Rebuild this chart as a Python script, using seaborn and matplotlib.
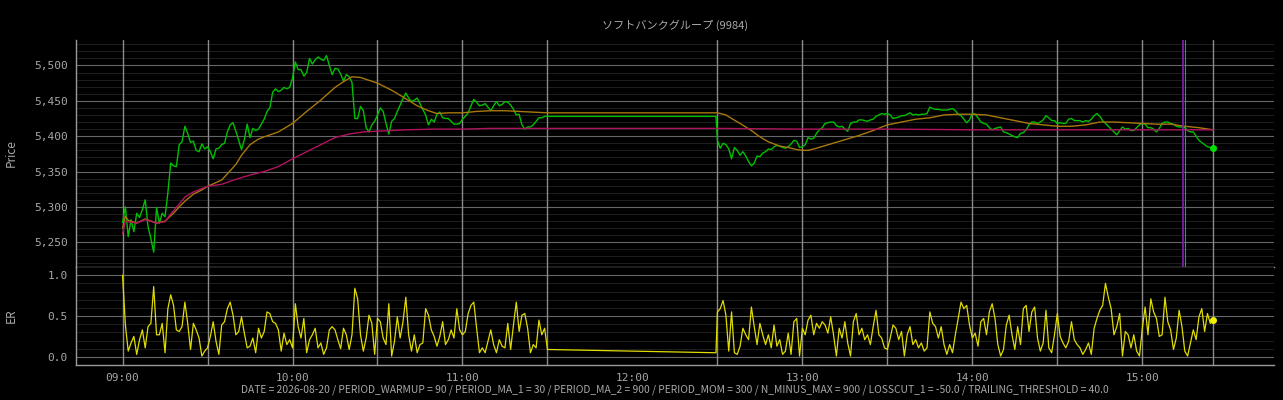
import pandas as pd
import seaborn as sns
import matplotlib.pyplot as plt
import matplotlib.dates as mdates
from matplotlib.ticker import MultipleLocator, FuncFormatter

# Chart texts
title = "ソフトバンクグループ (9984)"
params = ("DATE = 2026-08-20 / PERIOD_WARMUP = 90 / PERIOD_MA_1 = 30 / PERIOD_MA_2 = 900 / "
          "PERIOD_MOM = 300 / N_MINUS_MAX = 900 / LOSSCUT_1 = -50.0 / TRAILING_THRESHOLD = 40.0")

# Price, one value per minute, 09:00 - 11:30
price_am = [5278, 5300, 5258, 5282, 5265, 5291, 5285, 5296, 5310, 5272,
            5255, 5236, 5299, 5277, 5291, 5286, 5320, 5362, 5358, 5357,
            5388, 5392, 5414, 5404, 5391, 5393, 5380, 5378, 5389, 5382,
            5385, 5378, 5368, 5382, 5383, 5388, 5390, 5406, 5416, 5419,
            5407, 5394, 5381, 5395, 5417, 5398, 5411, 5408, 5410, 5417,
            5424, 5435, 5440, 5462, 5467, 5463, 5465, 5469, 5467, 5469,
            5482, 5505, 5494, 5494, 5485, 5490, 5510, 5502, 5508, 5512,
            5509, 5507, 5514, 5500, 5487, 5496, 5495, 5488, 5478, 5487,
            5484, 5476, 5425, 5425, 5442, 5436, 5412, 5406, 5416, 5421,
            5430, 5440, 5435, 5418, 5403, 5421, 5425, 5435, 5444, 5453,
            5461, 5454, 5449, 5451, 5454, 5446, 5438, 5430, 5416, 5424,
            5420, 5431, 5434, 5426, 5425, 5425, 5421, 5417, 5417, 5418,
            5424, 5428, 5433, 5443, 5452, 5448, 5443, 5444, 5446, 5441,
            5436, 5443, 5449, 5443, 5445, 5449, 5448, 5444, 5438, 5430,
            5431, 5416, 5410, 5413, 5413, 5416, 5421, 5426, 5426, 5428, 5428]

# last price carried through the lunch break
lunch_price = 5428

# Price, one value per minute, 12:30 - 15:25
price_pm = [5394, 5383, 5390, 5388, 5382, 5368, 5384, 5380, 5373, 5378,
            5372, 5364, 5358, 5362, 5372, 5371, 5376, 5378, 5382, 5381,
            5385, 5387, 5386, 5384, 5383, 5385, 5389, 5394, 5393, 5384,
            5385, 5388, 5398, 5396, 5397, 5404, 5409, 5412, 5418, 5419,
            5420, 5420, 5415, 5413, 5414, 5410, 5407, 5418, 5420, 5420,
            5423, 5423, 5422, 5421, 5423, 5424, 5428, 5430, 5432, 5431,
            5432, 5430, 5425, 5426, 5427, 5429, 5429, 5431, 5433, 5430,
            5431, 5430, 5431, 5431, 5432, 5441, 5439, 5438, 5438, 5437,
            5437, 5437, 5438, 5439, 5436, 5431, 5429, 5424, 5419, 5423,
            5432, 5431, 5426, 5420, 5418, 5417, 5412, 5409, 5411, 5412,
            5413, 5406, 5405, 5403, 5401, 5399, 5398, 5404, 5405, 5409,
            5416, 5420, 5420, 5418, 5420, 5423, 5429, 5426, 5422, 5422,
            5418, 5419, 5418, 5418, 5424, 5425, 5422, 5422, 5422, 5420,
            5422, 5421, 5424, 5429, 5432, 5428, 5422, 5418, 5414, 5410,
            5406, 5402, 5408, 5413, 5410, 5411, 5408, 5408, 5412, 5416,
            5418, 5417, 5412, 5412, 5410, 5406, 5411, 5418, 5420, 5420,
            5418, 5417, 5414, 5413, 5413, 5412, 5408, 5406, 5406, 5400,
            5394, 5391, 5388, 5385, 5384, 5383]

# Moving averages (minutes after session open, value)
ma1_am_min = [0, 1, 2, 5, 8, 10, 12, 15, 18, 20, 22, 25, 28, 30, 35, 40, 42, 45, 48, 50,
              55, 60, 65, 70, 75, 78, 81, 84, 87, 90, 95, 100, 104, 108, 111, 115, 120,
              125, 130, 135, 140, 145, 150]
ma1_am = [5270, 5287, 5281, 5277, 5283, 5280, 5277, 5280, 5291, 5300, 5308, 5318, 5324,
          5329, 5338, 5360, 5373, 5388, 5396, 5399, 5406, 5418, 5435, 5451, 5469, 5477,
          5484, 5483, 5479, 5475, 5465, 5453, 5443, 5436, 5432, 5433, 5433, 5435, 5436,
          5436, 5435, 5434, 5433]
ma1_pm_min = [0, 3, 5, 8, 10, 12, 15, 18, 20, 22, 25, 28, 30, 32, 35, 40, 45, 50, 55, 60,
              65, 70, 75, 80, 85, 90, 95, 100, 105, 110, 115, 120, 125, 130, 135, 140,
              145, 150, 155, 160, 165, 170, 175]
ma1_pm = [5433, 5430, 5425, 5418, 5413, 5408, 5399, 5392, 5389, 5386, 5384, 5381, 5380,
          5380, 5383, 5389, 5395, 5401, 5408, 5416, 5420, 5424, 5426, 5430, 5431, 5431,
          5430, 5426, 5422, 5418, 5416, 5414, 5414, 5416, 5420, 5420, 5419, 5418, 5417,
          5417, 5414, 5412, 5409]

ma2_am_min = [0, 1, 2, 5, 8, 12, 15, 17, 20, 22, 25, 28, 30, 35, 40, 45, 50, 55, 60, 65,
              70, 75, 80, 85, 90, 100, 110, 120, 130, 140, 150]
ma2_am = [5262, 5280, 5279, 5277, 5282, 5277, 5279, 5290, 5304, 5314, 5321, 5326, 5329,
          5332, 5339, 5345, 5350, 5357, 5368, 5378, 5388, 5398, 5403, 5406, 5407, 5409,
          5410, 5410, 5411, 5411, 5411]
ma2_pm_min = [0, 30, 60, 90, 120, 150, 175]
ma2_pm = [5411, 5410, 5410, 5409, 5409, 5409, 5409]

# Efficiency ratio, one value per minute
er_am = [1.00, 0.39, 0.07, 0.17, 0.25, 0.03, 0.21, 0.33, 0.11, 0.37,
         0.41, 0.86, 0.27, 0.27, 0.41, 0.05, 0.59, 0.76, 0.63, 0.33,
         0.31, 0.37, 0.67, 0.41, 0.09, 0.41, 0.33, 0.23, 0.01, 0.07,
         0.11, 0.25, 0.43, 0.19, 0.03, 0.39, 0.43, 0.59, 0.67, 0.51,
         0.27, 0.31, 0.49, 0.29, 0.11, 0.13, 0.23, 0.05, 0.35, 0.23,
         0.31, 0.55, 0.53, 0.43, 0.41, 0.33, 0.07, 0.29, 0.15, 0.21,
         0.11, 0.65, 0.37, 0.23, 0.47, 0.05, 0.21, 0.27, 0.35, 0.11,
         0.17, 0.03, 0.11, 0.33, 0.37, 0.33, 0.21, 0.10, 0.35, 0.27,
         0.09, 0.27, 0.84, 0.71, 0.27, 0.07, 0.23, 0.51, 0.41, 0.03,
         0.47, 0.43, 0.23, 0.15, 0.65, 0.01, 0.19, 0.49, 0.23, 0.43,
         0.73, 0.27, 0.07, 0.27, 0.05, 0.15, 0.17, 0.59, 0.51, 0.33,
         0.25, 0.13, 0.25, 0.43, 0.15, 0.21, 0.33, 0.23, 0.59, 0.33,
         0.27, 0.31, 0.53, 0.63, 0.67, 0.35, 0.05, 0.11, 0.05, 0.19,
         0.33, 0.15, 0.05, 0.21, 0.13, 0.11, 0.41, 0.09, 0.39, 0.67,
         0.31, 0.51, 0.53, 0.35, 0.05, 0.15, 0.11, 0.45, 0.27, 0.35, 0.09]
lunch_er = 0.05
er_pm = [0.55, 0.59, 0.69, 0.51, 0.07, 0.55, 0.05, 0.03, 0.13, 0.35,
         0.27, 0.21, 0.61, 0.37, 0.15, 0.41, 0.27, 0.15, 0.27, 0.11,
         0.39, 0.13, 0.21, 0.03, 0.07, 0.29, 0.03, 0.43, 0.47, 0.01,
         0.35, 0.27, 0.45, 0.51, 0.27, 0.41, 0.35, 0.43, 0.39, 0.29,
         0.49, 0.27, 0.01, 0.35, 0.23, 0.43, 0.17, 0.01, 0.43, 0.53,
         0.27, 0.35, 0.21, 0.27, 0.15, 0.37, 0.57, 0.27, 0.23, 0.11,
         0.09, 0.23, 0.39, 0.35, 0.21, 0.31, 0.01, 0.27, 0.37, 0.15,
         0.21, 0.11, 0.17, 0.07, 0.11, 0.55, 0.41, 0.37, 0.23, 0.37,
         0.15, 0.03, 0.15, 0.05, 0.27, 0.47, 0.67, 0.59, 0.63, 0.39,
         0.23, 0.29, 0.13, 0.43, 0.47, 0.27, 0.55, 0.65, 0.47, 0.15,
         0.01, 0.09, 0.39, 0.51, 0.27, 0.09, 0.37, 0.15, 0.59, 0.63,
         0.31, 0.55, 0.61, 0.23, 0.07, 0.17, 0.57, 0.11, 0.05, 0.27,
         0.53, 0.25, 0.17, 0.11, 0.19, 0.43, 0.21, 0.15, 0.11, 0.03,
         0.09, 0.17, 0.03, 0.35, 0.47, 0.57, 0.63, 0.90, 0.73, 0.59,
         0.27, 0.37, 0.53, 0.01, 0.31, 0.27, 0.11, 0.27, 0.07, 0.01,
         0.35, 0.61, 0.27, 0.71, 0.55, 0.47, 0.25, 0.27, 0.73, 0.43,
         0.33, 0.09, 0.23, 0.57, 0.37, 0.07, 0.01, 0.17, 0.33, 0.21,
         0.49, 0.59, 0.31, 0.53, 0.41, 0.45]

# Time axis
day = pd.Timestamp("2026-08-20")
open_am = day + pd.Timedelta("09:00:00")
open_pm = day + pd.Timedelta("12:30:00")
t_am = pd.date_range(open_am, periods=len(price_am), freq="min")
t_pm = pd.date_range(open_pm, periods=len(price_pm), freq="min")
t_lunch = open_pm - pd.Timedelta(seconds=30)

# session guide lines and trade marks
session_lines = ["09:00", "09:30", "10:00", "10:30", "11:00", "11:30",
                 "12:30", "13:00", "13:30", "14:00", "14:30", "15:00", "15:25"]
entry_time = day + pd.Timedelta("15:14:20")
exit_time = day + pd.Timedelta("15:15:00")

df_price = pd.DataFrame({
    "time": list(t_am) + [t_lunch] + list(t_pm),
    "value": price_am + [lunch_price] + price_pm,
})
df_er = pd.DataFrame({
    "time": list(t_am) + [t_lunch] + list(t_pm),
    "value": er_am + [lunch_er] + er_pm,
})
df_ma1 = pd.DataFrame({
    "time": [open_am + pd.Timedelta(minutes=m) for m in ma1_am_min]
            + [open_pm + pd.Timedelta(minutes=m) for m in ma1_pm_min],
    "value": ma1_am + ma1_pm,
})
df_ma2 = pd.DataFrame({
    "time": [open_am + pd.Timedelta(minutes=m) for m in ma2_am_min]
            + [open_pm + pd.Timedelta(minutes=m) for m in ma2_pm_min],
    "value": ma2_am + ma2_pm,
})

# Style
sns.set_theme(style="dark")
plt.rcParams["font.family"] = ["DejaVu Sans Mono", "Noto Sans CJK JP"]
bg = "#000000"
fg = "#a8a8a8"
jp = ["Noto Sans CJK JP", "DejaVu Sans"]

fig = plt.figure(figsize=(12.83, 4.0), dpi=100, facecolor=bg)
ax1 = fig.add_axes([0.0592, 0.3325, 0.9338, 0.5675])
ax2 = fig.add_axes([0.0592, 0.0875, 0.9338, 0.245], sharex=ax1)

for ax in (ax1, ax2):
    ax.set_facecolor(bg)
    for s in ("top", "right"):
        ax.spines[s].set_visible(False)
    for s in ("left", "bottom"):
        ax.spines[s].set_color("#9a9a9a")
        ax.spines[s].set_linewidth(1.0)
    ax.grid(which="major", axis="y", color="#666666", linewidth=0.8)
    ax.grid(which="minor", axis="y", color="#1f1f1f", linewidth=0.7)
    ax.tick_params(axis="both", colors=fg, labelsize=8, length=3, pad=3)
    ax.tick_params(which="minor", length=0)
    for hhmm in session_lines:
        ax.axvline(day + pd.Timedelta(hhmm + ":00"), color="#8c8c8c", linewidth=1.0, zorder=1)

# Price panel
sns.lineplot(data=df_price, x="time", y="value", ax=ax1, color="#00c000",
             linewidth=1.0, estimator=None, zorder=3)
sns.lineplot(data=df_ma1, x="time", y="value", ax=ax1, color="#a8780c",
             linewidth=1.0, estimator=None, zorder=4)
sns.lineplot(data=df_ma2, x="time", y="value", ax=ax1, color="#b0145e",
             linewidth=1.0, estimator=None, zorder=4)
ax1.plot(t_pm[-1], price_pm[-1], "o", color="#00e000", markersize=4, zorder=5)
ax1.axvline(entry_time, color="#7b1fa2", linewidth=1.3, zorder=6)
ax1.axvline(exit_time, color="#1e88e5", linewidth=0.8, zorder=7)

ax1.set_ylim(5215, 5536)
ax1.yaxis.set_major_locator(MultipleLocator(50))
ax1.yaxis.set_minor_locator(MultipleLocator(10))
ax1.yaxis.set_major_formatter(FuncFormatter(lambda v, p: f"{v:,.0f}"))
ax1.tick_params(axis="x", labelbottom=False, direction="in", length=3)
ax1.set_xlabel("")
ax1.set_ylabel("Price", color=fg, fontsize=8.5, family=jp)
ax1.yaxis.set_label_coords(-0.0484, 0.5)
ax1.set_title(title, color=fg, fontsize=8, family=jp, pad=8)

# ER panel
sns.lineplot(data=df_er, x="time", y="value", ax=ax2, color="#e0dc00",
             linewidth=0.9, estimator=None, zorder=3)
ax2.plot(t_pm[-1], er_pm[-1], "o", color="#f0f000", markersize=4, zorder=5)
ax2.set_ylim(-0.1, 1.1)
ax2.yaxis.set_major_locator(MultipleLocator(0.5))
ax2.yaxis.set_minor_locator(MultipleLocator(0.1))
ax2.yaxis.set_major_formatter(FuncFormatter(lambda v, p: f"{v:.1f}"))
ax2.set_ylabel("ER", color=fg, fontsize=8.5, family=jp)
ax2.yaxis.set_label_coords(-0.0484, 0.5)
ax2.set_xlabel(params, color=fg, fontsize=7.4, family=jp, labelpad=1)

ax2.set_xlim(day + pd.Timedelta("08:43:33"), day + pd.Timedelta("15:46:30"))
ax2.xaxis.set_major_locator(mdates.HourLocator())
ax2.xaxis.set_major_formatter(mdates.DateFormatter("%H:%M"))

fig.savefig("out.png", dpi=100, facecolor=bg)
